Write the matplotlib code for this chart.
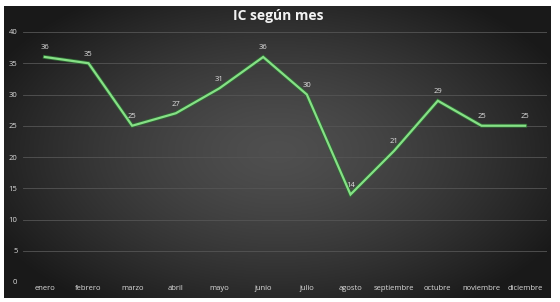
import numpy as np
import matplotlib
matplotlib.use("Agg")
import matplotlib.pyplot as plt
import matplotlib.patheffects as pe

# Data
months = ["enero", "febrero", "marzo", "abril", "mayo", "junio", "julio",
          "agosto", "septiembre", "octubre", "noviembre", "diciembre"]
ic_values = [36, 35, 25, 27, 31, 36, 30, 14, 21, 29, 25, 25]
y_ticks = [0, 5, 10, 15, 20, 25, 30, 35, 40]

W, H = 560, 302
fig = plt.figure(figsize=(W / 100, H / 100), dpi=100)
fig.patch.set_facecolor("white")

# Dark radial-gradient panel behind the chart
bg = fig.add_axes([4 / W, 1 - 298 / H, (551 - 4) / W, (298 - 6) / H])
gx, gy = np.meshgrid(np.linspace(-1, 1, 400), np.linspace(-1, 1, 220))
r = np.sqrt((gx / 1.0) ** 2 + (gy / 1.1) ** 2)
shade = np.clip(0.31 - 0.17 * r ** 1.4, 0.1, 1)
bg.imshow(np.dstack([shade] * 3), aspect="auto", extent=[0, 1, 0, 1])
bg.set_axis_off()

# Plot area
left, right, top, bottom = 23, 547, 32, 282
ax = fig.add_axes([left / W, 1 - bottom / H, (right - left) / W, (bottom - top) / H])
ax.set_facecolor("none")
x = np.arange(len(months))
ax.plot(x, ic_values, color="#86e086", lw=1.6, solid_joinstyle="miter",
        path_effects=[pe.Stroke(linewidth=2.8, foreground="#2f6b34"), pe.Normal()],
        zorder=3)

for xi, v in zip(x, ic_values):
    ax.annotate(str(v), (xi, v), textcoords="offset points", xytext=(0, 4),
                ha="center", va="bottom", fontsize=5.5, color="#e0e0e0",
                family="Open Sans", zorder=4)

ax.set_xlim(-0.5, len(months) - 0.5)
ax.set_ylim(0, 40)
ax.set_yticks(y_ticks)
ax.set_xticks(x)
ax.set_xticklabels(months)
ax.grid(axis="y", color="#555555", lw=0.6)
ax.set_axisbelow(True)
for s in ax.spines.values():
    s.set_visible(False)
ax.tick_params(length=0, labelsize=5.5, labelcolor="#dcdcdc", pad=4)
ax.tick_params(axis="x", pad=2.5)
for lab in ax.get_xticklabels() + ax.get_yticklabels():
    lab.set_family("Open Sans")

fig.text(0.497, 1 - 16 / H, "IC según mes", ha="center", va="center",
         fontsize=10, fontweight="bold", color="#f2f2f2", family="Open Sans")

fig.savefig("out.png", dpi=100, facecolor=fig.get_facecolor())
